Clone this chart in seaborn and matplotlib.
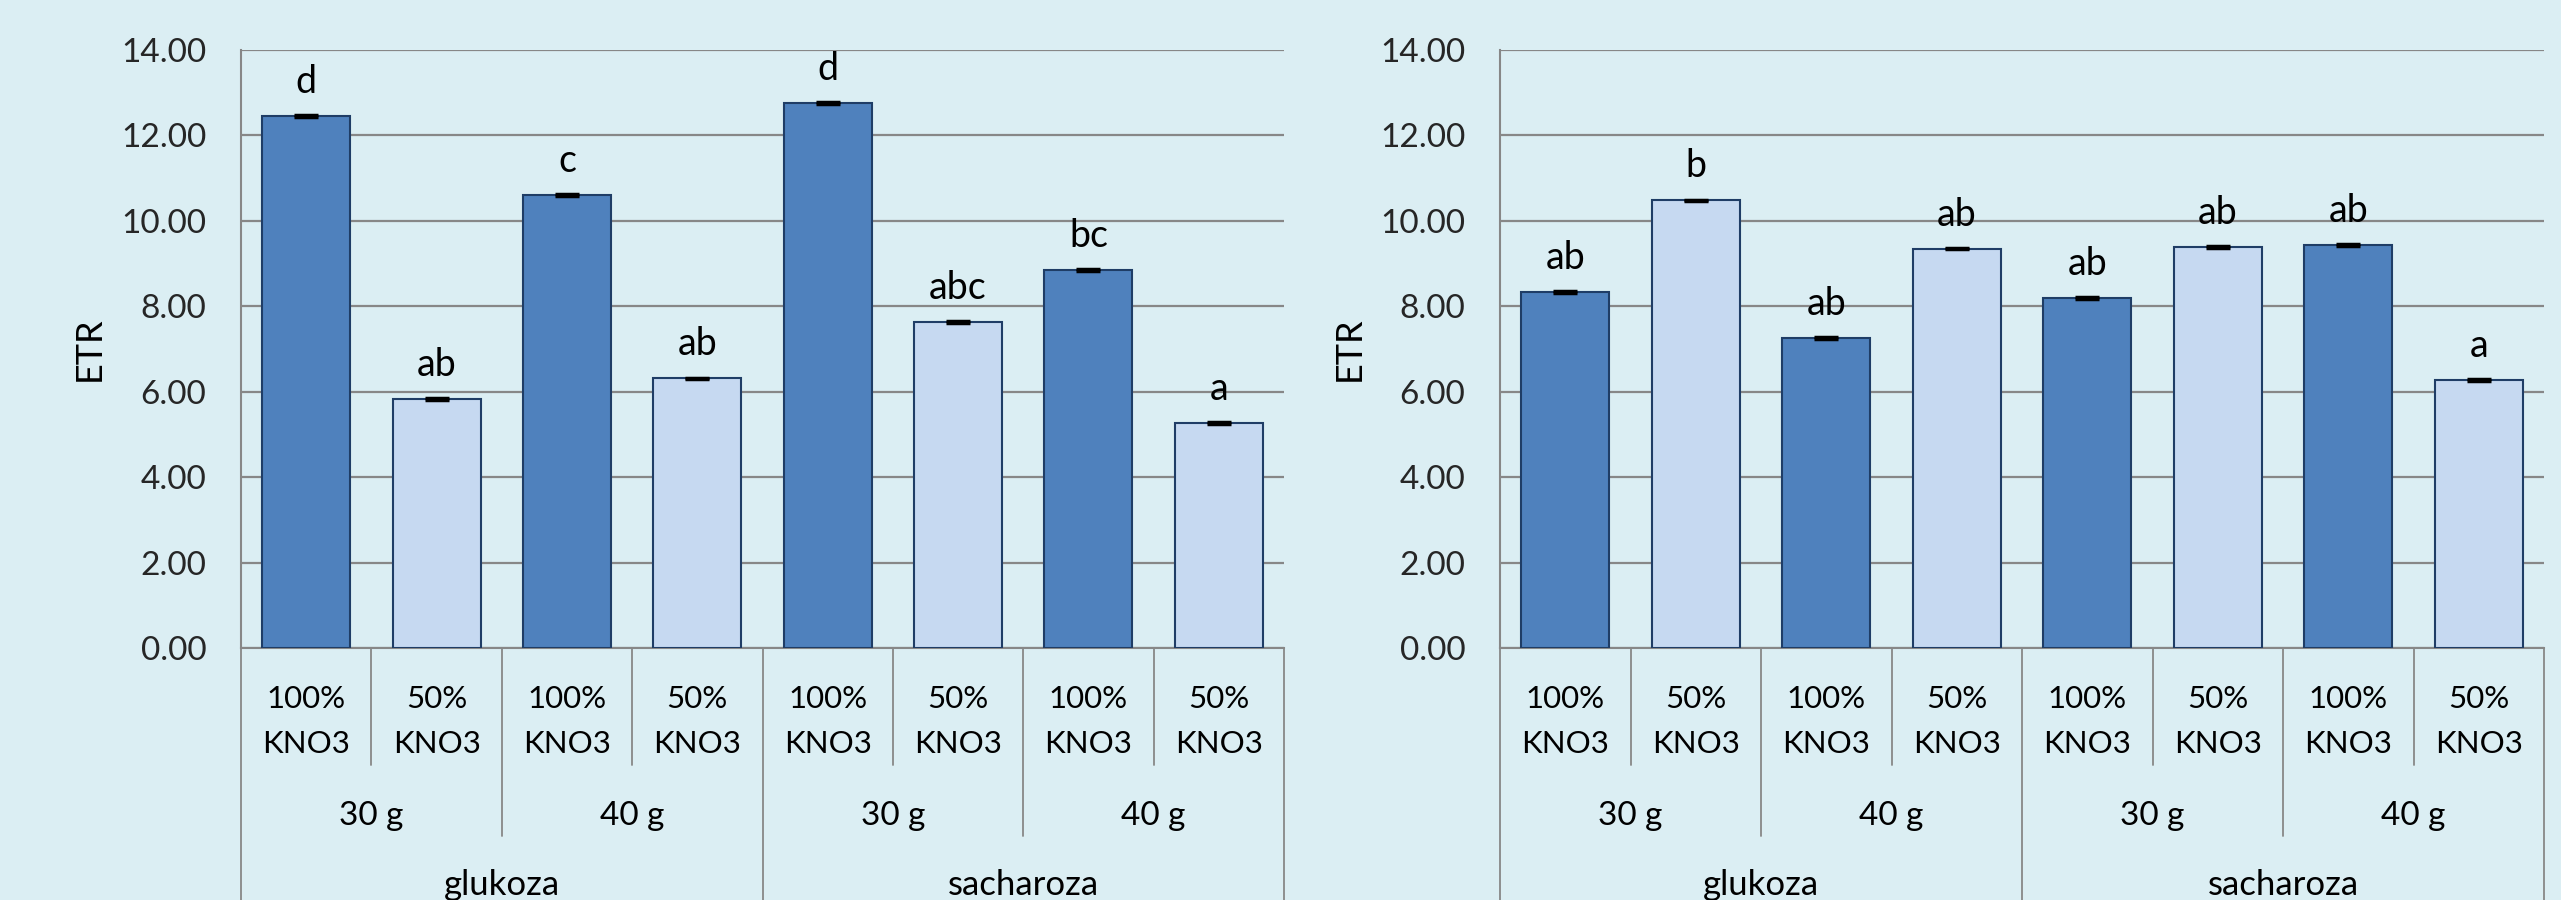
import matplotlib
matplotlib.use("Agg")
import matplotlib.pyplot as plt
import matplotlib.transforms as mtransforms
import numpy as np
import pandas as pd
import seaborn as sns

# ---------------- data ----------------
sugars = ["glukoza", "glukoza", "glukoza", "glukoza",
          "sacharoza", "sacharoza", "sacharoza", "sacharoza"]
doses = ["30 g", "30 g", "40 g", "40 g", "30 g", "30 g", "40 g", "40 g"]
kno3 = ["100% KNO3", "50% KNO3", "100% KNO3", "50% KNO3",
        "100% KNO3", "50% KNO3", "100% KNO3", "50% KNO3"]
kno3_top = ["100%", "50%", "100%", "50%", "100%", "50%", "100%", "50%"]
kno3_bottom = ["KNO3", "KNO3", "KNO3", "KNO3", "KNO3", "KNO3", "KNO3", "KNO3"]

etr_left = [12.45, 5.83, 10.60, 6.31, 12.76, 7.64, 8.85, 5.26]
err_left = [0.02, 0.02, 0.02, 0.02, 0.02, 0.02, 0.02, 0.02]
letters_left = ["d", "ab", "c", "ab", "d", "abc", "bc", "a"]

etr_right = [8.33, 10.48, 7.25, 9.35, 8.19, 9.38, 9.43, 6.28]
err_right = [0.02, 0.02, 0.02, 0.02, 0.02, 0.02, 0.02, 0.02]
letters_right = ["ab", "b", "ab", "ab", "ab", "ab", "ab", "a"]

y_ticks = [0, 2, 4, 6, 8, 10, 12, 14]
y_label = "ETR"

# ---------------- style ----------------
BG = "#DBEEF3"
DARK = "#4F81BD"
LIGHT = "#C6D9F1"
EDGE = "#1F3D66"
GRID = "#878787"
FONT = "Lato"

sns.set_theme(style="white")
plt.rcParams["font.family"] = [FONT, "DejaVu Sans"]
plt.rcParams["text.color"] = "black"

W, H = 2561, 900
fig = plt.figure(figsize=(W / 100, H / 100), dpi=100, facecolor=BG)

AX_BOTTOM_PX = 648
AX_TOP_PX = 50
AX_H_PX = AX_BOTTOM_PX - AX_TOP_PX


def px_y(py):
    """pixel y (from top) -> axes fraction"""
    return (AX_BOTTOM_PX - py) / AX_H_PX


def draw_panel(left_px, right_px, label_px, values, errs, letters):
    ax = fig.add_axes([left_px / W, (H - AX_BOTTOM_PX) / H,
                       (right_px - left_px) / W, AX_H_PX / H])
    ax.set_facecolor(BG)
    keys = [f"{s}|{d}|{k}" for s, d, k in zip(sugars, doses, kno3)]
    df = pd.DataFrame({"key": keys, "ETR": values, "kno3": kno3})
    sns.barplot(data=df, x="key", y="ETR", hue="kno3", order=keys,
                palette={"100% KNO3": DARK, "50% KNO3": LIGHT},
                saturation=1, dodge=False, width=0.675, errorbar=None,
                legend=False, edgecolor=EDGE, linewidth=1.5, ax=ax, zorder=3)
    xs = np.arange(len(keys))
    ax.errorbar(xs, values, yerr=errs, fmt="none", ecolor="black",
                elinewidth=1.5, capsize=8.5, capthick=2.5, zorder=4)
    for x, v, t in zip(xs, values, letters):
        ax.annotate(t, (x, v), xytext=(0, 24.5), textcoords="offset points",
                    ha="center", va="center", fontsize=27, zorder=5)

    ax.set_xlim(-0.5, len(keys) - 0.5)
    ax.set_ylim(0, 14)
    ax.set_yticks(y_ticks)
    ax.set_yticklabels([f"{t:.2f}" for t in y_ticks])
    ax.tick_params(axis="y", direction="out", length=8, width=1.5,
                   color=GRID, pad=17, labelsize=24)
    ax.tick_params(axis="x", length=0, labelbottom=False)
    ax.set_xlabel("")
    ax.set_ylabel("")
    ax.yaxis.grid(True, color=GRID, linewidth=1.6, zorder=0)
    ax.set_axisbelow(True)
    for s in ["top", "right"]:
        ax.spines[s].set_visible(False)
    for s in ["left", "bottom"]:
        ax.spines[s].set_color(GRID)
        ax.spines[s].set_linewidth(1.5)
        ax.spines[s].set_zorder(2)

    ax.text((label_px - left_px) / (right_px - left_px), 0.5, y_label,
            transform=ax.transAxes, rotation=90,
            ha="center", va="center", fontsize=26)

    tr = mtransforms.blended_transform_factory(ax.transData, ax.transAxes)
    # separators of the hierarchical category axis
    for i in range(len(keys) + 1):
        xb = i - 0.5
        if i == 0 or i == len(keys) or sugars[i] != sugars[i - 1]:
            y_end = -0.6
        elif doses[i] != doses[i - 1]:
            y_end = px_y(836)
        else:
            y_end = px_y(765)
        ax.plot([xb, xb], [0, y_end], transform=tr, color=GRID,
                linewidth=1.3, clip_on=False, zorder=1)

    # level 1 labels
    for x, t1, t2 in zip(xs, kno3_top, kno3_bottom):
        ax.text(x, px_y(708), t1, transform=tr, ha="center",
                va="baseline", fontsize=22.5)
        ax.text(x, px_y(753), t2, transform=tr, ha="center",
                va="baseline", fontsize=22.5)
    # level 2 labels
    i = 0
    while i < len(keys):
        j = i
        while j + 1 < len(keys) and doses[j + 1] == doses[i] and sugars[j + 1] == sugars[i]:
            j += 1
        ax.text((i + j) / 2, px_y(825), doses[i], transform=tr,
                ha="center", va="baseline", fontsize=24)
        i = j + 1
    # level 3 labels
    i = 0
    while i < len(keys):
        j = i
        while j + 1 < len(keys) and sugars[j + 1] == sugars[i]:
            j += 1
        ax.text((i + j) / 2, px_y(895), sugars[i], transform=tr,
                ha="center", va="baseline", fontsize=25)
        i = j + 1
    return ax


draw_panel(241, 1284, 89, etr_left, err_left, letters_left)
draw_panel(1500, 2544, 1349, etr_right, err_right, letters_right)

fig.savefig("out.png", dpi=100, facecolor=BG)
